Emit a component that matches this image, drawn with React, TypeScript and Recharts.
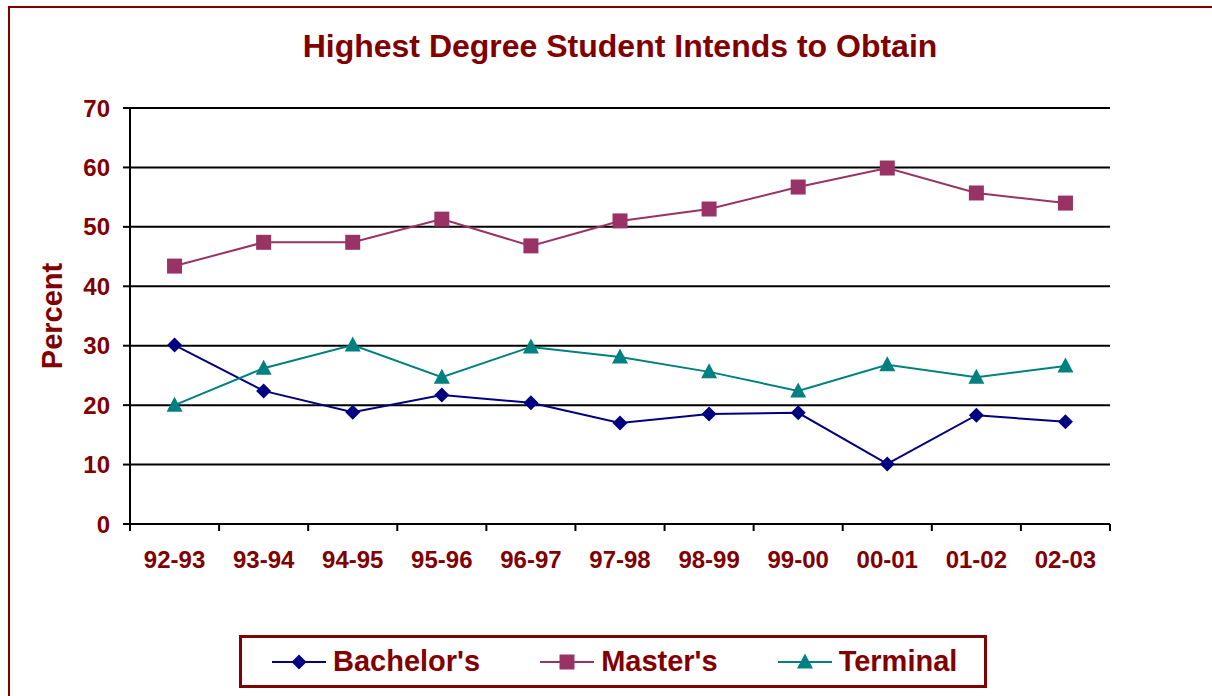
import React from "react";
import { LineChart, Line, XAxis, YAxis, CartesianGrid, Legend } from "recharts";

const categories = ["92-93", "93-94", "94-95", "95-96", "96-97", "97-98", "98-99", "99-00", "00-01", "01-02", "02-03"];
const bachelors = [30.1, 22.4, 18.8, 21.7, 20.4, 17.0, 18.5, 18.7, 10.1, 18.3, 17.2];
const masters = [43.4, 47.4, 47.4, 51.3, 46.8, 51.0, 53.0, 56.7, 59.9, 55.7, 54.0];
const terminal = [20.0, 26.2, 30.1, 24.7, 29.8, 28.1, 25.6, 22.4, 26.8, 24.7, 26.6];
const yTicks = [0, 10, 20, 30, 40, 50, 60, 70];

const data = categories.map((cat, i) => ({
  cat,
  bachelors: bachelors[i],
  masters: masters[i],
  terminal: terminal[i],
}));

const FONT = "'Liberation Sans', Arial, sans-serif";
const MAROON = "#800000";
const PLOT_W = 980;
const BAND = PLOT_W / categories.length;
const TICK_SIZE = 7;
const X_TICK_MARGIN = 20;

type Shape = "diamond" | "square" | "triangle";

const series: { key: string; name: string; color: string; shape: Shape }[] = [
  { key: "bachelors", name: "Bachelor's", color: "#000080", shape: "diamond" },
  { key: "masters", name: "Master's", color: "#993366", shape: "square" },
  { key: "terminal", name: "Terminal", color: "#008080", shape: "triangle" },
];

function Marker({ cx, cy, shape, color }: { cx: number; cy: number; shape: Shape; color: string }) {
  if (cx == null || cy == null) return null;
  if (shape === "diamond") {
    const r = 7.5;
    return <path d={`M${cx},${cy - r}L${cx + r},${cy}L${cx},${cy + r}L${cx - r},${cy}Z`} fill={color} />;
  }
  if (shape === "square") {
    const r = 7.5;
    return <rect x={cx - r} y={cy - r} width={r * 2} height={r * 2} fill={color} />;
  }
  return <path d={`M${cx},${cy - 8.5}L${cx + 8},${cy + 6.5}L${cx - 8},${cy + 6.5}Z`} fill={color} />;
}

function XTick(props: any) {
  const { x, y, payload, index } = props;
  const axisY = y - TICK_SIZE - X_TICK_MARGIN;
  const half = BAND / 2;
  return (
    <g>
      <line x1={x - half} x2={x - half} y1={axisY} y2={axisY + TICK_SIZE} stroke="#000" strokeWidth={2} />
      {index === categories.length - 1 && (
        <line x1={x + half} x2={x + half} y1={axisY} y2={axisY + TICK_SIZE} stroke="#000" strokeWidth={2} />
      )}
      <text x={x} y={y} dy="0.71em" textAnchor="middle" fill={MAROON} fontSize={24} fontWeight="bold" fontFamily={FONT}>
        {payload.value}
      </text>
    </g>
  );
}

function PercentLabel(props: any) {
  const vb = props.viewBox;
  return (
    <text
      transform={`translate(${vb.x + 34}, ${vb.y + vb.height / 2}) rotate(-90)`}
      textAnchor="middle"
      fill={MAROON}
      fontSize={29}
      fontWeight="bold"
      fontFamily={FONT}
    >
      Percent
    </text>
  );
}

function LegendBox() {
  return (
    <div
      style={{
        boxSizing: "border-box",
        width: 748,
        height: 53,
        border: `3px solid ${MAROON}`,
        display: "flex",
        alignItems: "center",
        paddingLeft: 30,
        gap: 60,
        fontFamily: FONT,
        fontWeight: "bold",
        fontSize: 29,
        color: MAROON,
      }}
    >
      {series.map((s) => (
        <div key={s.key} style={{ display: "flex", alignItems: "center" }}>
          <svg width={54} height={20} style={{ marginRight: 7 }}>
            <line x1={0} x2={54} y1={10} y2={10} stroke={s.color} strokeWidth={2} />
            <Marker cx={27} cy={10} shape={s.shape} color={s.color} />
          </svg>
          <span>{s.name}</span>
        </div>
      ))}
    </div>
  );
}

export default function App() {
  return (
    <div style={{ position: "fixed", left: 0, top: 0, width: 1212, height: 696, overflow: "hidden", background: "#fff" }}>
      <div style={{ position: "absolute", left: 8, top: 6 }}>
        <LineChart width={1204} height={690} data={data} margin={{ top: 102, right: 102, bottom: 132, left: 20 }}>
          <CartesianGrid horizontal vertical={false} stroke="#000" strokeWidth={2} />
          <XAxis
            dataKey="cat"
            interval={0}
            height={40}
            padding={{ left: BAND / 2, right: BAND / 2 }}
            tickLine={false}
            tickSize={TICK_SIZE}
            tickMargin={X_TICK_MARGIN}
            axisLine={{ stroke: "#000", strokeWidth: 2 }}
            tick={<XTick />}
          />
          <YAxis
            domain={[0, 70]}
            ticks={yTicks}
            interval={0}
            width={102}
            tickSize={TICK_SIZE}
            tickMargin={13}
            axisLine={{ stroke: "#000", strokeWidth: 2 }}
            tickLine={{ stroke: "#000", strokeWidth: 2 }}
            tick={{ fill: MAROON, fontSize: 24, fontWeight: "bold", fontFamily: FONT }}
            label={{ content: <PercentLabel /> }}
          />
          <YAxis
            yAxisId="right"
            orientation="right"
            width={0}
            tick={false}
            tickLine={false}
            axisLine={{ stroke: "#000", strokeWidth: 2 }}
          />
          {series.map((s) => (
            <Line
              key={s.key}
              dataKey={s.key}
              name={s.name}
              stroke={s.color}
              strokeWidth={2}
              isAnimationActive={false}
              dot={(p: any) => <Marker key={`${s.key}-${p.index}`} cx={p.cx} cy={p.cy} shape={s.shape} color={s.color} />}
              activeDot={false}
            />
          ))}
          <Legend
            verticalAlign="middle"
            align="center"
            layout="horizontal"
            wrapperStyle={{ left: 231, top: 629, width: 748, height: 53 }}
            content={<LegendBox />}
          />
        </LineChart>
      </div>
      <div
        style={{
          position: "absolute",
          left: 270,
          top: 30,
          width: 700,
          textAlign: "center",
          fontFamily: FONT,
          fontWeight: "bold",
          fontSize: 32,
          lineHeight: "32px",
          color: MAROON,
          whiteSpace: "nowrap",
        }}
      >
        Highest Degree Student Intends to Obtain
      </div>
      <div
        style={{
          position: "absolute",
          left: 8,
          top: 6,
          width: 1300,
          height: 800,
          border: `2px solid ${MAROON}`,
          boxSizing: "border-box",
          pointerEvents: "none",
        }}
      />
    </div>
  );
}
